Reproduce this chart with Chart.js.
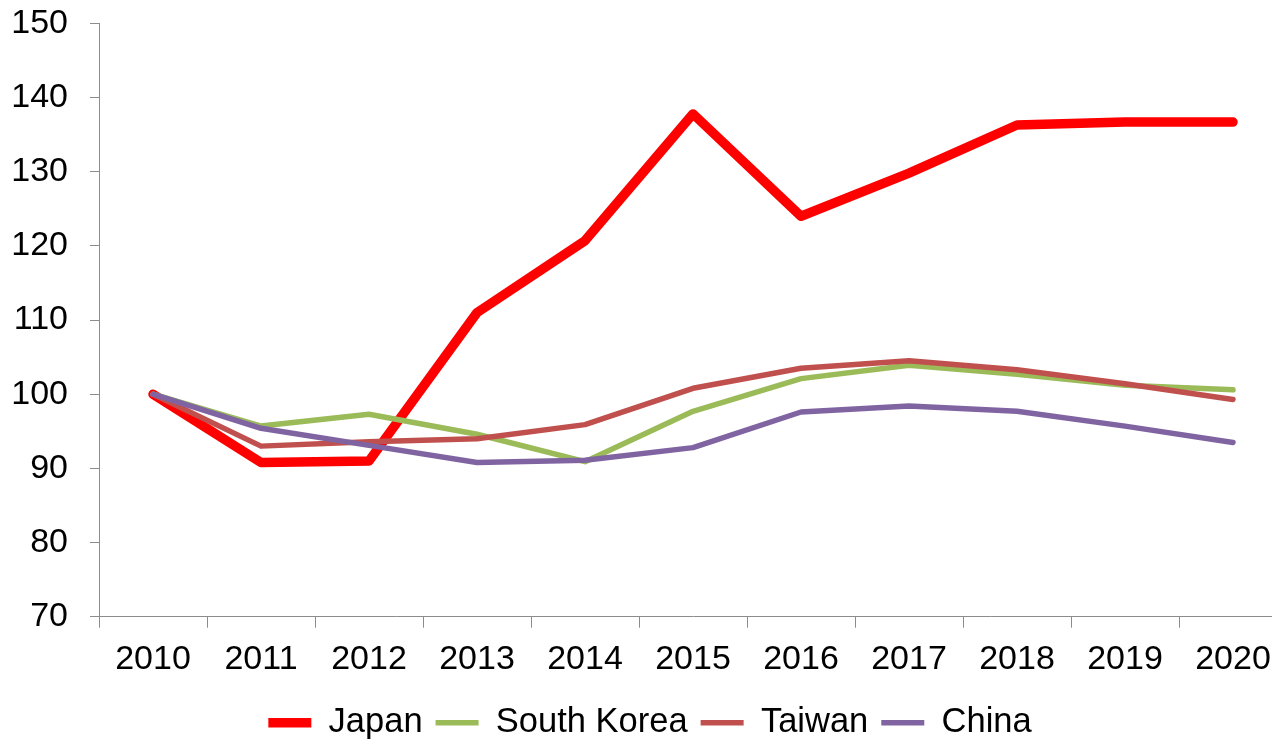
<!DOCTYPE html>
<html lang="en">
<head>
    <meta charset="UTF-8">
    <title>Index 2010 = 100</title>
    <script src="https://cdn.jsdelivr.net/npm/chart.js"></script>
    <style>
        html, body {
            margin: 0;
            padding: 0;
            background: #fff;
            overflow: hidden;
        }
        #wrap {
            position: absolute;
            left: 0;
            top: -19px;
            width: 1300px;
            height: 769px;
        }
    </style>
</head>
<body>
    <div id="wrap"><canvas id="chart"></canvas></div>

    <script>
        // Categories and series (2010 = 100)
        const years = ['2010', '2011', '2012', '2013', '2014', '2015', '2016', '2017', '2018', '2019', '2020'];
        const japan = [100, 90.8, 91.0, 111.0, 120.7, 137.8, 124.0, 129.8, 136.3, 136.7, 136.7];
        const southKorea = [100, 95.7, 97.3, 94.6, 90.9, 97.7, 102.1, 103.9, 102.7, 101.2, 100.6];
        const taiwan = [100, 93.0, 93.6, 94.0, 95.9, 100.8, 103.5, 104.5, 103.3, 101.4, 99.3];
        const china = [100, 95.4, 93.1, 90.8, 91.1, 92.8, 97.6, 98.4, 97.7, 95.7, 93.5];

        const axisColor = '#8c8c8c';
        const font = { family: '"Liberation Sans", Arial, sans-serif', size: 34 };
        const legendFont = { family: '"Liberation Sans", Arial, sans-serif', size: 34.5 };

        new Chart(document.getElementById('chart'), {
            type: 'line',
            data: {
                labels: years,
                datasets: [
                    { label: 'Japan', data: japan, borderColor: '#ff0000', backgroundColor: '#ff0000', borderWidth: 9.5, order: 3 },
                    { label: 'South Korea', data: southKorea, borderColor: '#9bbb59', backgroundColor: '#9bbb59', borderWidth: 5.5, order: 2 },
                    { label: 'Taiwan', data: taiwan, borderColor: '#c0504d', backgroundColor: '#c0504d', borderWidth: 5.5, order: 1 },
                    { label: 'China', data: china, borderColor: '#8064a2', backgroundColor: '#8064a2', borderWidth: 5.5, order: 0 }
                ]
            },
            options: {
                responsive: true,
                maintainAspectRatio: false,
                animation: false,
                elements: {
                    line: { tension: 0, borderCapStyle: 'round', borderJoinStyle: 'round' },
                    point: { radius: 0, hoverRadius: 0 }
                },
                layout: { padding: { left: 13, right: 13, top: 0, bottom: 0 } },
                plugins: {
                    tooltip: { enabled: false },
                    legend: {
                        position: 'bottom',
                        labels: {
                            usePointStyle: true,
                            pointStyle: 'line',
                            pointStyleWidth: 43,
                            color: '#000',
                            font: legendFont,
                            padding: 13,
                            sort: (a, b) => a.datasetIndex - b.datasetIndex
                        }
                    }
                },
                scales: {
                    x: {
                        offset: true,
                        border: { color: axisColor, width: 1 },
                        grid: {
                            offset: true,
                            drawOnChartArea: false,
                            drawTicks: true,
                            tickLength: 11,
                            color: axisColor
                        },
                        ticks: { color: '#000', font: font, padding: 12, maxRotation: 0, autoSkip: false }
                    },
                    y: {
                        min: 70,
                        max: 150,
                        afterFit: (scale) => { scale.width = 86; },
                        border: { color: axisColor, width: 1 },
                        grid: {
                            drawOnChartArea: false,
                            drawTicks: true,
                            tickLength: 9,
                            color: axisColor
                        },
                        ticks: { stepSize: 10, color: '#000', font: font, padding: 22 }
                    }
                }
            }
        });
    </script>
</body>
</html>
